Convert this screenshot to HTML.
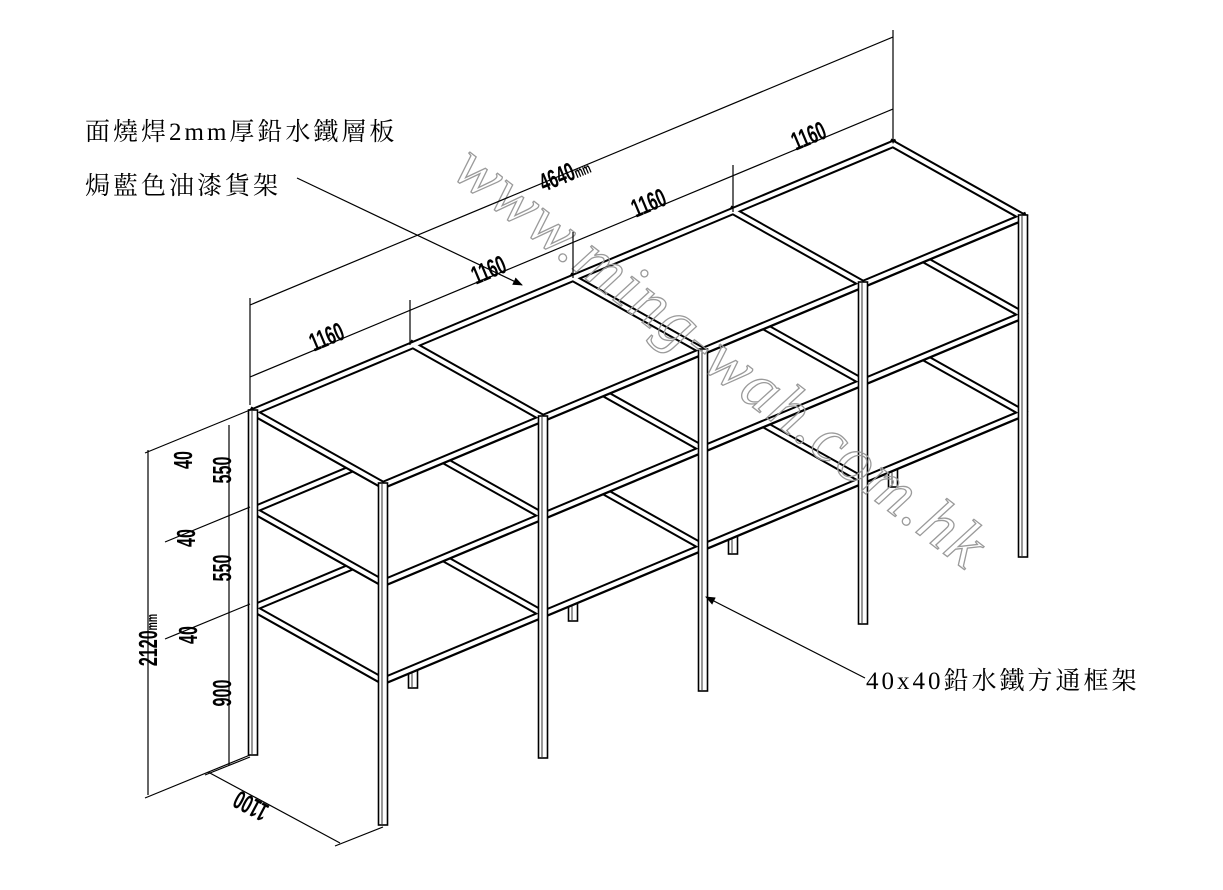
<!DOCTYPE html>
<html><head><meta charset="utf-8">
<style>
html,body{margin:0;padding:0;background:#fff;}
svg{display:block;}
.t{font-family:"Liberation Serif","Noto Serif CJK SC","Noto Serif CJK TC",serif;font-size:25px;fill:#000;letter-spacing:3px;}
.d{font-family:"Liberation Sans",sans-serif;font-size:26px;font-weight:bold;fill:#000;}
</style></head><body>
<svg id="s" width="1223" height="890" viewBox="0 0 1223 890" xmlns="http://www.w3.org/2000/svg">
<defs><marker id="ar" markerWidth="10" markerHeight="8" refX="9" refY="4" orient="auto" markerUnits="userSpaceOnUse"><path d="M0,0 L10,4 L0,8 z" fill="#000"/></marker></defs>
<g id="geo"></g>
<text x="0" y="0" transform="translate(450,175) rotate(37.5)" font-family="Liberation Serif,serif" font-style="italic" font-size="66" fill="none" stroke="#9a9a9a" stroke-width="1.3" letter-spacing="2">www.ming-wah.com.hk</text>
<g stroke="#000" stroke-width="1.2" fill="none">
<line x1="250" y1="305" x2="893" y2="37"/>
<line x1="250" y1="377" x2="893" y2="109"/>
<line x1="250" y1="298" x2="250" y2="405"/>
<line x1="893" y1="30" x2="893" y2="140"/>
<line x1="410" y1="300" x2="410" y2="345"/>
<line x1="573" y1="232" x2="573" y2="278"/>
<line x1="733" y1="165" x2="733" y2="212"/>
<line x1="148" y1="450" x2="148" y2="795"/>
<line x1="229" y1="425" x2="229" y2="765"/>
<line x1="250" y1="410" x2="145" y2="453"/>
<line x1="250" y1="507" x2="165" y2="542"/>
<line x1="250" y1="604" x2="165" y2="639"/>
<line x1="250" y1="755" x2="145" y2="798"/>
<line x1="250" y1="757" x2="205" y2="775"/>
<line x1="383" y1="827" x2="335" y2="846"/>
<line x1="208" y1="772" x2="340" y2="843"/>
<line x1="297" y1="178" x2="522" y2="285" marker-end="url(#ar)"/>
<line x1="865" y1="678" x2="706" y2="597" marker-end="url(#ar)"/>
</g>
<g class="d">
<text transform="translate(330,345) rotate(-22.7) scale(0.62,1)" text-anchor="middle">1160</text>
<text transform="translate(492,278) rotate(-22.7) scale(0.62,1)" text-anchor="middle">1160</text>
<text transform="translate(652,211) rotate(-22.7) scale(0.62,1)" text-anchor="middle">1160</text>
<text transform="translate(812,144) rotate(-22.7) scale(0.62,1)" text-anchor="middle">1160</text>
<text transform="translate(568,182) rotate(-22.7) scale(0.62,1)" text-anchor="middle">4640<tspan font-size="15">mm</tspan></text>
<text transform="translate(192,460) rotate(-90) scale(0.62,1)" text-anchor="middle">40</text>
<text transform="translate(231,470) rotate(-90) scale(0.62,1)" text-anchor="middle">550</text>
<text transform="translate(195,538) rotate(-90) scale(0.62,1)" text-anchor="middle">40</text>
<text transform="translate(231,568) rotate(-90) scale(0.62,1)" text-anchor="middle">550</text>
<text transform="translate(197,635) rotate(-90) scale(0.62,1)" text-anchor="middle">40</text>
<text transform="translate(231,693) rotate(-90) scale(0.62,1)" text-anchor="middle">900</text>
<text transform="translate(157,640) rotate(-90) scale(0.62,1)" text-anchor="middle">2120<tspan font-size="15">mm</tspan></text>
<text transform="translate(255,798) rotate(208) scale(0.62,1)" text-anchor="middle">1100</text>
</g>
<text class="t" x="85" y="140">面燒焊2mm厚鉛水鐵層板</text>
<text class="t" x="85" y="194">焗藍色油漆貨架</text>
<text class="t" x="866" y="689">40x40鉛水鐵方通框架</text>
</svg>
<script>
(function(){
var g=document.getElementById('geo'),h='';
function tube(x1,y1,x2,y2,w){h+='<line x1="'+x1+'" y1="'+y1+'" x2="'+x2+'" y2="'+y2+'" stroke="#000" stroke-width="'+w+'" stroke-linecap="square"/>';}
function core(x1,y1,x2,y2,w){h+='<line x1="'+x1+'" y1="'+y1+'" x2="'+x2+'" y2="'+y2+'" stroke="#fff" stroke-width="'+w+'"/>';}
function poly(p){h+='<polygon points="'+p.map(function(a){return a[0]+','+a[1]}).join(' ')+'" fill="#fff" stroke="#000" stroke-width="1.2"/>';}
function leg(x,y1,y2){h+='<rect x="'+(x-4.5)+'" y="'+y1+'" width="9" height="'+(y2-y1)+'" fill="#fff" stroke="#000" stroke-width="1.6"/>';h+='<line x1="'+(x-1)+'" y1="'+(y1+1)+'" x2="'+(x-1)+'" y2="'+(y2-1)+'" stroke="#000" stroke-width="0.8"/>';}
for(var k=1;k<=4;k++){leg(253+160*k,606-67*k,755-67*k);}
[196,98,0].forEach(function(dy){
 var y0=410+dy,T=6;
 var BL=[253,y0],BR=[893,y0-268],FR=[1023,y0-268+73],FL=[383,y0+73];
 poly([FL,FR,[FR[0],FR[1]+T],[FL[0],FL[1]+T]]);
 poly([BL,FL,[FL[0],FL[1]+T],[BL[0],BL[1]+T]]);
 poly([BL,BR,FR,FL]);
 var E=[[BL,BR],[BR,FR],[FR,FL],[FL,BL]];
 for(var k=1;k<=3;k++)E.push([[253+160*k,y0-67*k],[383+160*k,y0-67*k+73]]);
 E.forEach(function(e){tube(e[0][0],e[0][1]+2,e[1][0],e[1][1]+2,8);});
 E.forEach(function(e){core(e[0][0],e[0][1]+2,e[1][0],e[1][1]+2,4);});
});
leg(253,410,755);
for(var k=0;k<=4;k++){leg(383+160*k,483-67*k,825-67*k);}
g.innerHTML=h;
})();
</script>
</body></html>
